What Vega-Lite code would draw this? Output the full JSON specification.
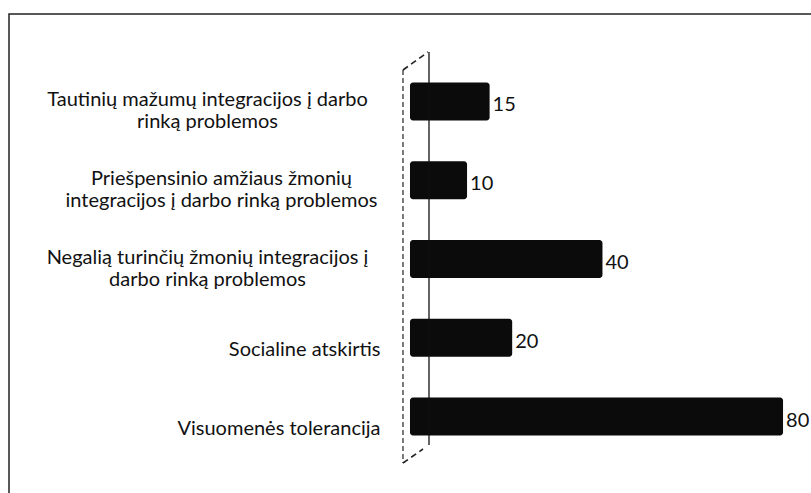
{
  "$schema": "https://vega.github.io/schema/vega-lite/v6.json",
  "width": 805,
  "height": 490,
  "autosize": "none",
  "padding": {"left": 9, "top": 14, "right": 0, "bottom": 0},
  "background": "white",
  "config": {"view": {"stroke": "#222222", "strokeWidth": 1.5}, "font": "Lato"},
  "data": {
    "values": [
      {"category": "Tautinių mažumų integracijos į darbo\nrinką problemos", "value": 15},
      {"category": "Priešpensinio amžiaus žmonių\nintegracijos į darbo rinką problemos", "value": 10},
      {"category": "Negalią turinčių žmonių integracijos į\ndarbo rinką problemos", "value": 40},
      {"category": "Socialine atskirtis", "value": 20},
      {"category": "Visuomenės tolerancija", "value": 80}
    ]
  },
  "encoding": {
    "y": {
      "field": "category",
      "type": "nominal",
      "sort": null,
      "scale": {"paddingInner": 0.52, "paddingOuter": 0.871},
      "axis": {
        "title": null,
        "domain": false,
        "ticks": false,
        "offset": -401,
        "labelExpr": "split(datum.label, '\\n')",
        "labelFont": "Lato",
        "labelFontSize": 20,
        "labelColor": "#111111",
        "labelLineHeight": 22,
        "labelLimit": 0,
        "labelOffset": {"condition": {"test": "indexof(datum.value, '\\n') >= 0", "value": -1}, "value": 12},
        "labelBaseline": "middle",
        "labelAlign": {"condition": {"test": "indexof(datum.value, '\\n') >= 0", "value": "center"}, "value": "right"},
        "labelPadding": {"condition": [
          {"test": "indexof(datum.value, 'Priešpensinio') >= 0", "value": 189},
          {"test": "indexof(datum.value, '\\n') >= 0", "value": 203}
        ], "value": 30}
      }
    }
  },
  "layer": [
    {
      "mark": {"type": "bar", "color": "#0b0b0b", "cornerRadius": 3},
      "encoding": {
        "x": {"field": "value", "type": "quantitative", "axis": null, "scale": {"domain": [-91.47, 86.86], "nice": false, "zero": false}},
        "x2": {"datum": -2.64}
      }
    },
    {
      "mark": {"type": "text", "align": "left", "baseline": "middle", "dx": 3, "dy": 4, "fontSize": 20, "color": "#111111", "font": "Lato"},
      "encoding": {
        "x": {"field": "value", "type": "quantitative"},
        "text": {"field": "value", "type": "quantitative"}
      }
    },
    {
      "data": {"values": [{}]},
      "mark": {"type": "rule", "color": "#111111", "strokeWidth": 1.3},
      "encoding": {
        "x": {"datum": 1.57},
        "y": {"datum": "Tautinių mažumų integracijos į darbo\nrinką problemos", "bandPosition": -0.81},
        "y2": {"datum": "Visuomenės tolerancija", "bandPosition": 1.254}
      }
    },
    {
      "data": {"values": [{}]},
      "mark": {"type": "rule", "color": "#333333", "strokeWidth": 1.3, "strokeDash": [5, 3]},
      "encoding": {
        "x": {"datum": -4.19},
        "y": {"datum": "Tautinių mažumų integracijos į darbo\nrinką problemos", "bandPosition": -0.333},
        "y2": {"datum": "Visuomenės tolerancija", "bandPosition": 1.73}
      }
    },
    {
      "data": {"values": [{}]},
      "mark": {"type": "rule", "color": "#222222", "strokeWidth": 1.6, "strokeDash": [6, 4]},
      "encoding": {
        "x": {"datum": -4.19},
        "x2": {"datum": 1.35},
        "y": {"datum": "Tautinių mažumų integracijos į darbo\nrinką problemos", "bandPosition": -0.333},
        "y2": {"datum": "Tautinių mažumų integracijos į darbo\nrinką problemos", "bandPosition": -0.81}
      }
    },
    {
      "data": {"values": [{}]},
      "mark": {"type": "rule", "color": "#222222", "strokeWidth": 1.6, "strokeDash": [6, 4]},
      "encoding": {
        "x": {"datum": -4.19},
        "x2": {"datum": 0.24},
        "y": {"datum": "Visuomenės tolerancija", "bandPosition": 1.73},
        "y2": {"datum": "Visuomenės tolerancija", "bandPosition": 1.36}
      }
    }
  ]
}
